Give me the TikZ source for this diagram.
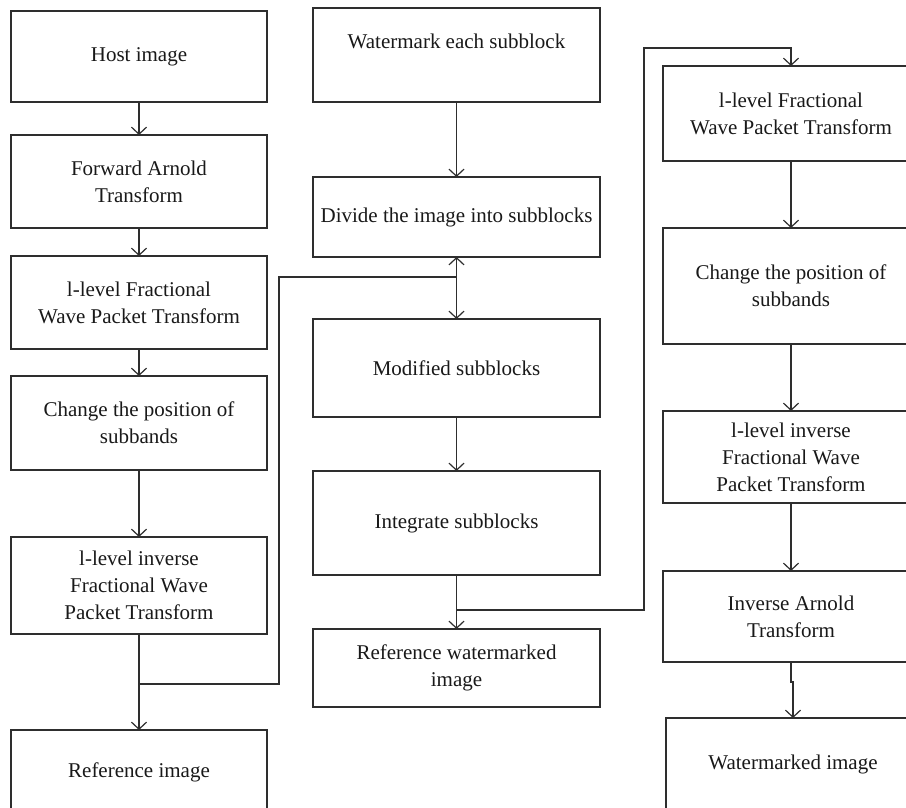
\documentclass[tikz,border=0pt]{standalone}
\usepackage{fontspec}
\setmainfont{Liberation Serif}
\usetikzlibrary{arrows.meta}
\begin{document}
\begin{tikzpicture}[x=1pt,y=-1pt, line width=1.3pt, color=black!82,
  box/.style={draw=black!82, line width=1.3pt, rectangle, inner sep=0pt, outer sep=0pt,
    align=center, font=\fontsize{21}{27}\selectfont, text=black!90},
  lbox/.style={box, minimum width=256pt},
  mbox/.style={box, minimum width=287pt},
  arr/.style={-{Straight Barb[length=7pt,width=15pt,line width=1.2pt]}},
  darr/.style={{Straight Barb[length=7pt,width=15pt,line width=1.2pt]}-{Straight Barb[length=7pt,width=15pt,line width=1.2pt]}}
]
\useasboundingbox (0,0) rectangle (906,808);
\fill[white] (0,0) rectangle (906,808);
\clip (0,0) rectangle (906,808);

% left column
\node[lbox, minimum height=91pt] (host) at (139,56.5) {Host image};
\node[lbox, minimum height=93pt] (fwd) at (139,181.5) {Forward Arnold\\Transform};
\node[lbox, minimum height=93pt] (fwpt) at (139,302.5) {l-level Fractional\\Wave Packet Transform};
\node[lbox, minimum height=94pt] (chg) at (139,423) {Change the position of\\subbands};
\node[lbox, minimum height=97pt] (inv) at (139,585.5) {l-level inverse\\Fractional Wave\\Packet Transform};
\node[lbox, minimum height=84pt] (ref) at (139,772) {Reference image};

% middle column
\node[mbox, minimum height=94pt] (wmk) at (456.5,55) {Watermark each subblock\\\phantom{x}};
\node[mbox, minimum height=80pt] (div) at (456.5,217) {Divide the image into subblocks};
\node[mbox, minimum height=98pt] (mod) at (456.5,368) {Modified subblocks};
\node[mbox, minimum height=104pt] (intg) at (456.5,523) {Integrate subblocks};
\node[mbox, minimum height=78pt] (refwm) at (456.5,668) {Reference watermarked\\image};

% right column
\node[lbox, minimum height=95pt] (fwptr) at (791,113.5) {l-level Fractional\\Wave Packet Transform};
\node[lbox, minimum height=116pt] (chgr) at (791,286) {Change the position of\\subbands};
\node[lbox, minimum height=92pt] (invr) at (791,457) {l-level inverse\\Fractional Wave\\Packet Transform};
\node[lbox, minimum height=91pt] (inva) at (791,616.5) {Inverse Arnold\\Transform};
\node[box, minimum width=254pt, minimum height=92pt] (wmi) at (793,764) {Watermarked image};

% left connectors
\draw[arr] (host) -- (fwd);
\draw[arr] (fwd) -- (fwpt);
\draw[arr] (fwpt) -- (chg);
\draw[arr] (chg) -- (inv);
\draw[arr] (inv) -- (ref);
\coordinate (b1) at (139,684);
\coordinate (j1) at (456.5,277);
\draw (b1) -- (279,684) -- (279,277) -- (j1);

% middle connectors
\draw[arr] (wmk) -- (div);
\draw[darr] (div) -- (mod);
\draw[arr] (mod) -- (intg);
\draw[arr] (intg) -- (refwm);
\coordinate (b2) at (456.5,610);
\draw[arr] (b2) -- (644,610) -- (644,48) -| (fwptr.north);

% right connectors
\draw[arr] (fwptr) -- (chgr);
\draw[arr] (chgr) -- (invr);
\draw[arr] (invr) -- (inva);
\draw[arr] (inva.south) -- ++(0,20) -| (wmi.north);
\end{tikzpicture}
\end{document}
